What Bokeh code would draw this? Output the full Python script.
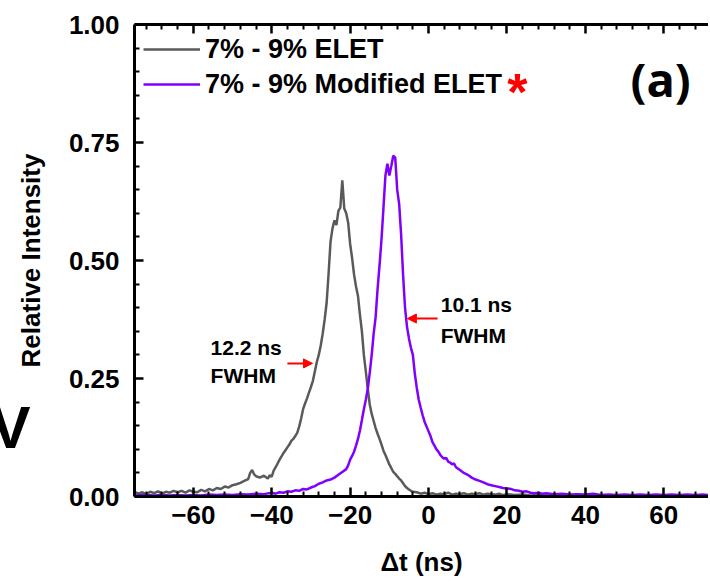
from bokeh.plotting import figure
from bokeh.models import (FixedTicker, Range1d, LinearAxis, Legend, LegendItem,
                          Label, Arrow, NormalHead, NumeralTickFormatter)
from bokeh.embed import file_html
from bokeh.resources import INLINE

# ---------------- data ----------------
elet_t = [-75, -74, -73, -72, -71, -70, -69, -68, -67, -66, -65, -64, -63, -62, -61, -60,
          -59, -58, -57, -56, -55, -54, -53, -52, -51, -50, -49, -48, -47, -46, -45.5, -45,
          -44.5, -44, -43, -42, -41, -40.5, -40, -39.5, -39, -38.5, -38, -37.5, -37, -36.5,
          -36, -35.5, -35, -34.5, -34, -33.5, -33, -32.5, -32, -31.5, -31, -30.5, -30, -29.5,
          -29, -28.5, -28, -27.5, -27, -26.5, -26, -25.5, -25, -24.5, -24, -23.5, -23, -22.5,
          -22, -21.5, -21, -20.5, -20, -19.5, -19, -18.5, -18, -17.5, -17, -16.5, -16, -15.5,
          -15, -14.5, -14, -13.5, -13, -12.5, -12, -11.5, -11, -10.5, -10, -9.5, -9, -8.5,
          -8, -7.5, -7, -6.5, -6, -5.5, -5, -4.5, -4, -3, -2, -1, 0, 1, 2, 3, 4, 5, 6, 7, 8,
          9, 10, 11, 12, 13, 14, 15, 16, 17, 18, 19, 20, 22, 24, 26, 28, 30, 32, 34, 36, 38,
          40, 44, 48, 52, 56, 60, 64, 68, 71]
elet_i = [0.010, 0.006, 0.009, 0.005, 0.010, 0.007, 0.011, 0.006, 0.010, 0.008, 0.012, 0.009,
          0.012, 0.008, 0.013, 0.010, 0.009, 0.014, 0.011, 0.016, 0.013, 0.018, 0.016, 0.021,
          0.019, 0.024, 0.026, 0.029, 0.033, 0.037, 0.050, 0.056, 0.047, 0.043, 0.040, 0.044,
          0.038, 0.045, 0.042, 0.055, 0.062, 0.070, 0.078, 0.085, 0.092, 0.098, 0.104, 0.110,
          0.118, 0.122, 0.128, 0.135, 0.148, 0.165, 0.185, 0.197, 0.208, 0.220, 0.232, 0.245,
          0.265, 0.285, 0.300, 0.320, 0.345, 0.375, 0.410, 0.472, 0.540, 0.568, 0.585, 0.575,
          0.605, 0.612, 0.670, 0.610, 0.600, 0.580, 0.535, 0.505, 0.470, 0.445, 0.425, 0.385,
          0.350, 0.300, 0.265, 0.228, 0.195, 0.175, 0.160, 0.145, 0.133, 0.122, 0.110, 0.097,
          0.088, 0.078, 0.068, 0.060, 0.052, 0.048, 0.043, 0.038, 0.034, 0.028, 0.022, 0.018,
          0.015, 0.012, 0.010, 0.009, 0.006, 0.008, 0.005, 0.007, 0.004, 0.006, 0.005, 0.008,
          0.004, 0.006, 0.005, 0.007, 0.004, 0.006, 0.005, 0.007, 0.004, 0.006, 0.005, 0.004,
          0.006, 0.003, 0.005, 0.003, 0.004, 0.002, 0.003, 0.002, 0.003, 0.002, 0.003, 0.002,
          0.002, 0.002, 0.002, 0.002, 0.002, 0.002, 0.002, 0.002, 0.002]

mod_t = [-75, -72, -70, -68, -66, -64, -62, -60, -58, -56, -54, -52, -50, -48, -46, -44, -42,
         -40, -39, -38, -37, -36, -35, -34, -33, -32, -31, -30, -29, -28, -27, -26, -25, -24,
         -23, -22, -21, -20.5, -20, -19.5, -19, -18.5, -18, -17.5, -17, -16.5, -16, -15.5,
         -15, -14.5, -14, -13.5, -13, -12.5, -12, -11.5, -11, -10.5, -10, -9.5, -9, -8.5, -8,
         -7.5, -7, -6.5, -6, -5.5, -5, -4.5, -4, -3.5, -3, -2.5, -2, -1.5, -1, -0.5, 0, 0.5,
         1, 1.5, 2, 2.5, 3, 3.5, 4, 4.5, 5, 5.5, 6, 6.5, 7, 8, 9, 10, 11, 12, 13, 14, 15, 16,
         17, 18, 19, 20, 21, 22, 23, 24, 25, 26, 27, 28, 29, 30, 32, 34, 36, 38, 40, 42, 44,
         46, 48, 50, 52, 54, 56, 58, 60, 62, 64, 66, 68, 70, 71.4]
mod_i = [0.002, 0.003, 0.002, 0.003, 0.002, 0.003, 0.002, 0.003, 0.002, 0.004, 0.003, 0.004,
         0.003, 0.005, 0.004, 0.006, 0.005, 0.008, 0.006, 0.009, 0.008, 0.011, 0.010, 0.013,
         0.012, 0.016, 0.015, 0.019, 0.022, 0.027, 0.030, 0.034, 0.036, 0.040, 0.046, 0.052,
         0.058, 0.066, 0.078, 0.086, 0.095, 0.108, 0.122, 0.140, 0.162, 0.185, 0.205, 0.228,
         0.262, 0.300, 0.345, 0.380, 0.440, 0.490, 0.545, 0.612, 0.680, 0.705, 0.680, 0.700,
         0.722, 0.718, 0.650, 0.620, 0.555, 0.470, 0.400, 0.360, 0.335, 0.315, 0.300, 0.260,
         0.230, 0.205, 0.188, 0.172, 0.158, 0.148, 0.138, 0.128, 0.115, 0.108, 0.100, 0.095,
         0.088, 0.083, 0.080, 0.082, 0.074, 0.072, 0.068, 0.070, 0.062, 0.056, 0.050, 0.046,
         0.040, 0.036, 0.033, 0.030, 0.026, 0.024, 0.022, 0.020, 0.018, 0.017, 0.016, 0.013,
         0.012, 0.010, 0.011, 0.008, 0.007, 0.008, 0.006, 0.007, 0.005, 0.006, 0.004, 0.005,
         0.004, 0.006, 0.003, 0.004, 0.003, 0.004, 0.003, 0.004, 0.003, 0.004, 0.003, 0.004,
         0.003, 0.004, 0.003, 0.004, 0.003]

series_labels = ["7% - 9% ELET", "7% - 9% Modified ELET"]
x_major = [-60, -40, -20, 0, 20, 40, 60]
x_minor = [-72, -68, -64, -56, -52, -48, -44, -36, -32, -28, -24, -16, -12, -8, -4,
           4, 8, 12, 16, 24, 28, 32, 36, 44, 48, 52, 56, 64, 68]
y_major = [0.0, 0.25, 0.5, 0.75, 1.0]
y_minor = [0.05, 0.10, 0.15, 0.20, 0.30, 0.35, 0.40, 0.45, 0.55, 0.60, 0.65, 0.70,
           0.80, 0.85, 0.90, 0.95]
fwhm_elet = ["12.2 ns", "FWHM"]
fwhm_mod = ["10.1 ns", "FWHM"]
side_letter = "V"      # cut-off label of the neighbouring panel
side_letter_y = 0.147

FONT = "Liberation Sans"
GRAY = "#5a5a5a"
PURPLE = "#7f00ff"

p = figure(width=708, height=580, output_backend="svg", toolbar_location=None,
           x_range=Range1d(-75, 71.4), y_range=Range1d(0, 1.0),
           min_border_left=134, min_border_right=0, min_border_top=24, min_border_bottom=84,
           x_axis_label="Δt (ns)", y_axis_label="Relative Intensity")
p.outline_line_color = None
p.xgrid.visible = False
p.ygrid.visible = False
p.background_fill_color = "white"
p.border_fill_color = "white"

def style_axis(ax):
    ax.axis_line_width = 3
    ax.axis_line_color = "black"
    ax.major_tick_in = 9
    ax.major_tick_out = 0
    ax.minor_tick_in = 5
    ax.minor_tick_out = 0
    ax.major_tick_line_width = 2.5
    ax.minor_tick_line_width = 2
    ax.major_label_text_font = FONT
    ax.major_label_text_font_style = "bold"
    ax.major_label_text_font_size = "26px"
    ax.major_label_text_color = "black"
    ax.axis_label_text_font = FONT
    ax.axis_label_text_font_style = "bold"
    ax.axis_label_text_font_size = "26px"
    ax.axis_label_text_color = "black"

xa = p.xaxis[0]
xa.ticker = FixedTicker(ticks=x_major, minor_ticks=x_minor)
style_axis(xa)
xa.major_label_standoff = 9
xa.axis_label_standoff = 20

ya = p.yaxis[0]
ya.ticker = FixedTicker(ticks=y_major, minor_ticks=y_minor)
ya.formatter = NumeralTickFormatter(format="0.00")
style_axis(ya)
ya.major_label_standoff = 15
ya.axis_label_standoff = 20

top = LinearAxis(ticker=FixedTicker(ticks=x_major, minor_ticks=x_minor))
style_axis(top)
top.major_label_text_font_size = "0px"
top.major_label_standoff = 0
p.add_layout(top, "above")

# outer left axis that only carries the big cut-off letter of the neighbouring panel
side = LinearAxis(ticker=FixedTicker(ticks=[side_letter_y], minor_ticks=[]),
                  major_label_overrides={side_letter_y: side_letter},
                  axis_line_color=None, major_tick_line_color=None,
                  minor_tick_line_color=None, major_tick_in=0, major_tick_out=0,
                  major_label_standoff=-18,
                  major_label_text_font=FONT, major_label_text_font_style="bold",
                  major_label_text_font_size="60px", major_label_text_color="black",
                  axis_label=" ", axis_label_text_font_size="1px",
                  axis_label_standoff=-22)
p.add_layout(side, "left")

r_g = p.line(elet_t, elet_i, color=GRAY, line_width=2.5)
r_p = p.line(mod_t, mod_i, color=PURPLE, line_width=2.5)

legend = Legend(items=[LegendItem(label=series_labels[0], renderers=[r_g]),
                       LegendItem(label=series_labels[1], renderers=[r_p])],
                location="top_left", margin=9, padding=0, spacing=3,
                glyph_width=57, glyph_height=32, label_height=32, label_standoff=5,
                label_text_font=FONT, label_text_font_style="bold",
                label_text_font_size="27px", label_text_color="black",
                border_line_color=None, background_fill_alpha=0)
p.add_layout(legend)

p.add_layout(Label(x=20.1, y=0.856, text="*", text_color="red", text_font=FONT,
                   text_font_style="bold", text_font_size="52px",
                   text_baseline="alphabetic"))

p.add_layout(Label(x=51.5, y=0.885, text="(a)", text_color="black", text_font="Open Sans",
                   text_font_style="bold", text_font_size="47px",
                   text_baseline="alphabetic"))

# FWHM annotations
for (lx, ly), txt in zip([(-55.6, 0.316), (-55.6, 0.256)], fwhm_elet):
    p.add_layout(Label(x=lx, y=ly, text=txt, text_font=FONT, text_font_style="bold",
                       text_font_size="21px", text_color="black",
                       text_baseline="alphabetic"))
for (lx, ly), txt in zip([(3.1, 0.407), (3.1, 0.341)], fwhm_mod):
    p.add_layout(Label(x=lx, y=ly, text=txt, text_font=FONT, text_font_style="bold",
                       text_font_size="21px", text_color="black",
                       text_baseline="alphabetic"))

p.add_layout(Arrow(x_start=-36.0, y_start=0.282, x_end=-29.6, y_end=0.282,
                   line_color="red", line_width=2,
                   end=NormalHead(size=9, fill_color="red", line_color="red")))
p.add_layout(Arrow(x_start=2.3, y_start=0.377, x_end=-5.4, y_end=0.377,
                   line_color="red", line_width=2,
                   end=NormalHead(size=9, fill_color="red", line_color="red")))

open("out.html", "w").write(file_html(p, INLINE))
